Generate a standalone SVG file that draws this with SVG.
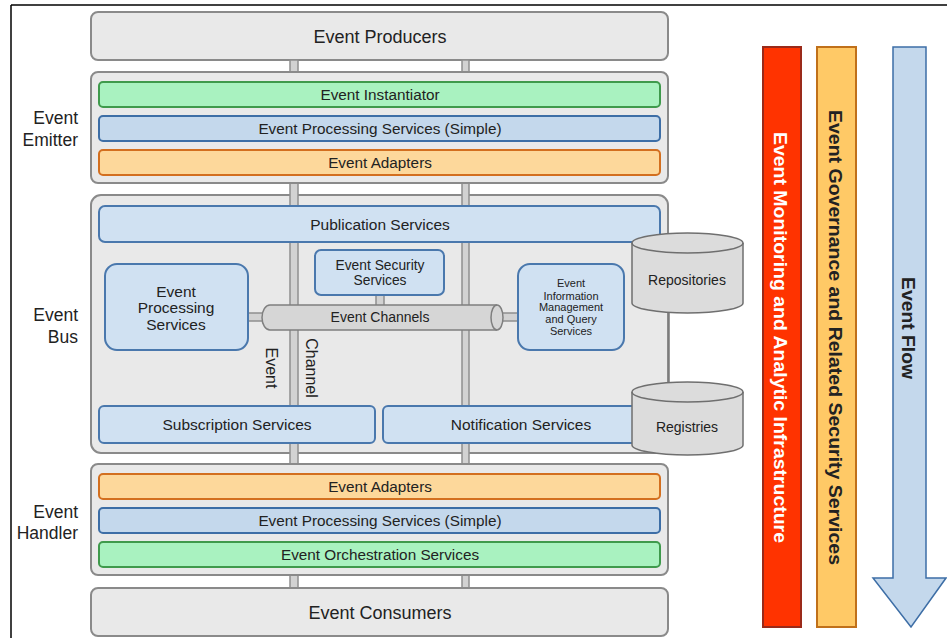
<svg xmlns="http://www.w3.org/2000/svg" width="947" height="638" viewBox="0 0 947 638">
<style>
text{font-family:"Liberation Sans",Arial,sans-serif;fill:#222;text-anchor:middle}
.cont{fill:#e9e9e9;stroke:#8a8a8a;stroke-width:2}
.pipe{fill:#d2d2d2;stroke:#8f8f8f;stroke-width:1.5}
.green{fill:#a9f2c0;stroke:#3f9a4c;stroke-width:2}
.blue{fill:#c4d8ec;stroke:#3d6ea6;stroke-width:2}
.orange{fill:#fdd89b;stroke:#d36f1f;stroke-width:2}
.lblue{fill:#d0e1f2;stroke:#4a78ad;stroke-width:2}
.cyl{fill:#dcdcdc;stroke:#6f6f6f;stroke-width:1.5}
.band{font-size:15.3px}
.t15{font-size:15.5px}
.t18{font-size:18px}
.side{font-size:17.5px;text-anchor:end}
.bar{font-size:18px;font-weight:bold}
</style>
<g id="frame">
<line x1="11" y1="5" x2="947" y2="5" stroke="#000" stroke-width="1.5"/>
<line x1="11" y1="5" x2="11" y2="638" stroke="#000" stroke-width="1.5"/>
</g>
<g id="producers">
<rect class="cont" x="91" y="12" width="577" height="48" rx="7"/>
<text class="t18" x="380" y="43">Event Producers</text>
</g>
<g id="bus-container">
<rect class="cont" x="91" y="195" width="577" height="258" rx="10"/>
</g>
<g id="connectors">
<rect class="pipe" x="290" y="60" width="8" height="528"/>
<rect class="pipe" x="462" y="60" width="7" height="528"/>
<rect class="pipe" x="248" y="313" width="16" height="8"/>
<rect class="pipe" x="498" y="313" width="21" height="8"/>
<rect class="pipe" x="376" y="295" width="8" height="11"/>
<line x1="669" y1="313" x2="669" y2="382" stroke="#777" stroke-width="1.5"/>
</g>
<g id="emitter">
<rect class="cont" x="91" y="72" width="577" height="111" rx="7"/>
<text class="side" x="78" y="124">Event</text>
<text class="side" x="78" y="146">Emitter</text>
</g>
<g id="event-instantiator">
<rect class="green" x="99" y="82" width="561" height="25" rx="4"/>
<text class="band" x="380" y="100">Event Instantiator</text>
</g>
<g id="eps-simple-1">
<rect class="blue" x="99" y="116" width="561" height="25" rx="4"/>
<text class="band" x="380" y="134">Event Processing Services (Simple)</text>
</g>
<g id="event-adapters-1">
<rect class="orange" x="99" y="150" width="561" height="25" rx="4"/>
<text class="band" x="380" y="168">Event Adapters</text>
</g>
<g id="bus-label">
<text class="side" x="78" y="321">Event</text>
<text class="side" x="78" y="343">Bus</text>
</g>
<g id="publication">
<rect class="lblue" x="99" y="206" width="561" height="36" rx="6"/>
<text class="t15" x="380" y="230">Publication Services</text>
</g>
<g id="eps">
<rect class="lblue" x="105" y="264" width="143" height="86" rx="12"/>
<text class="t15" x="176" y="297">Event</text>
<text class="t15" x="176" y="313">Processing</text>
<text class="t15" x="176" y="330">Services</text>
</g>
<g id="security">
<rect class="lblue" x="315" y="250" width="129" height="45" rx="6"/>
<text x="380" y="270" style="font-size:13.8px">Event Security</text>
<text x="380" y="285" style="font-size:13.8px">Services</text>
</g>
<g id="channels">
<path d="M270,305 H497 A6,12.5 0 0 1 497,330 H270 A8,12.5 0 0 1 270,305 Z" fill="#d6d6d6" stroke="#7f7f7f" stroke-width="1.5"/>
<path d="M497,305 A6,12.5 0 0 0 497,330" fill="none" stroke="#7f7f7f" stroke-width="1.5"/>
<text x="380" y="322" style="font-size:14px">Event Channels</text>
</g>
<g id="info-mgmt">
<rect class="lblue" x="518" y="264" width="106" height="86" rx="12"/>
<text x="571" y="287" style="font-size:11px">Event</text>
<text x="571" y="300" style="font-size:11px">Information</text>
<text x="571" y="311" style="font-size:11px">Management</text>
<text x="571" y="323" style="font-size:11px">and Query</text>
<text x="571" y="335" style="font-size:11px">Services</text>
</g>
<g id="channel-label">
<text transform="translate(266,368) rotate(90)" style="font-size:16px">Event</text>
<text transform="translate(306,368) rotate(90)" style="font-size:16px">Channel</text>
</g>
<g id="subscription">
<rect class="lblue" x="99" y="406" width="276" height="37" rx="5"/>
<text class="t15" x="237" y="430">Subscription Services</text>
</g>
<g id="notification">
<rect class="lblue" x="383" y="406" width="277" height="37" rx="5"/>
<text class="t15" x="521" y="430">Notification Services</text>
</g>
<g id="repositories">
<path class="cyl" d="M632,243 A55.5,10 0 0 1 743,243 V303 A55.5,10 0 0 1 632,303 Z"/>
<path d="M632,243 A55.5,10 0 0 0 743,243" fill="none" stroke="#6f6f6f" stroke-width="1.5"/>
<text x="687" y="285" style="font-size:14px">Repositories</text>
</g>
<g id="registries">
<path class="cyl" d="M632,392 A55.5,10 0 0 1 743,392 V445 A55.5,10 0 0 1 632,445 Z"/>
<path d="M632,392 A55.5,10 0 0 0 743,392" fill="none" stroke="#6f6f6f" stroke-width="1.5"/>
<text x="687" y="432" style="font-size:14px">Registries</text>
</g>
<g id="handler">
<rect class="cont" x="91" y="464" width="577" height="111" rx="7"/>
<text class="side" x="78" y="518">Event</text>
<text class="side" x="78" y="539">Handler</text>
</g>
<g id="event-adapters-2">
<rect class="orange" x="99" y="474" width="561" height="25" rx="4"/>
<text class="band" x="380" y="492">Event Adapters</text>
</g>
<g id="eps-simple-2">
<rect class="blue" x="99" y="508" width="561" height="25" rx="4"/>
<text class="band" x="380" y="526">Event Processing Services (Simple)</text>
</g>
<g id="orchestration">
<rect class="green" x="99" y="542" width="561" height="25" rx="4"/>
<text class="band" x="380" y="560">Event Orchestration Services</text>
</g>
<g id="consumers">
<rect class="cont" x="91" y="588" width="577" height="48" rx="7"/>
<text class="t18" x="380" y="619">Event Consumers</text>
</g>
<g id="monitoring">
<rect x="763" y="47" width="38" height="580" fill="#ff3300" stroke="#9a2a1a" stroke-width="2"/>
<text class="bar" transform="translate(774,337.5) rotate(90)" textLength="411" lengthAdjust="spacingAndGlyphs" style="fill:#fff">Event Monitoring and Analytic Infrastructure</text>
</g>
<g id="governance">
<rect x="817" y="47" width="39" height="580" fill="#ffc966" stroke="#c0701a" stroke-width="2"/>
<text class="bar" transform="translate(829,337.5) rotate(90)" textLength="455" lengthAdjust="spacingAndGlyphs">Event Governance and Related Security Services</text>
</g>
<g id="flow">
<path d="M893,47 H926 V578 H946 L911,627 L873,578 H893 Z" fill="#c4d8ec" stroke="#3d6ea6" stroke-width="1.5"/>
<text class="bar" transform="translate(902,328) rotate(90)" textLength="102" lengthAdjust="spacingAndGlyphs">Event Flow</text>
</g>
</svg>
